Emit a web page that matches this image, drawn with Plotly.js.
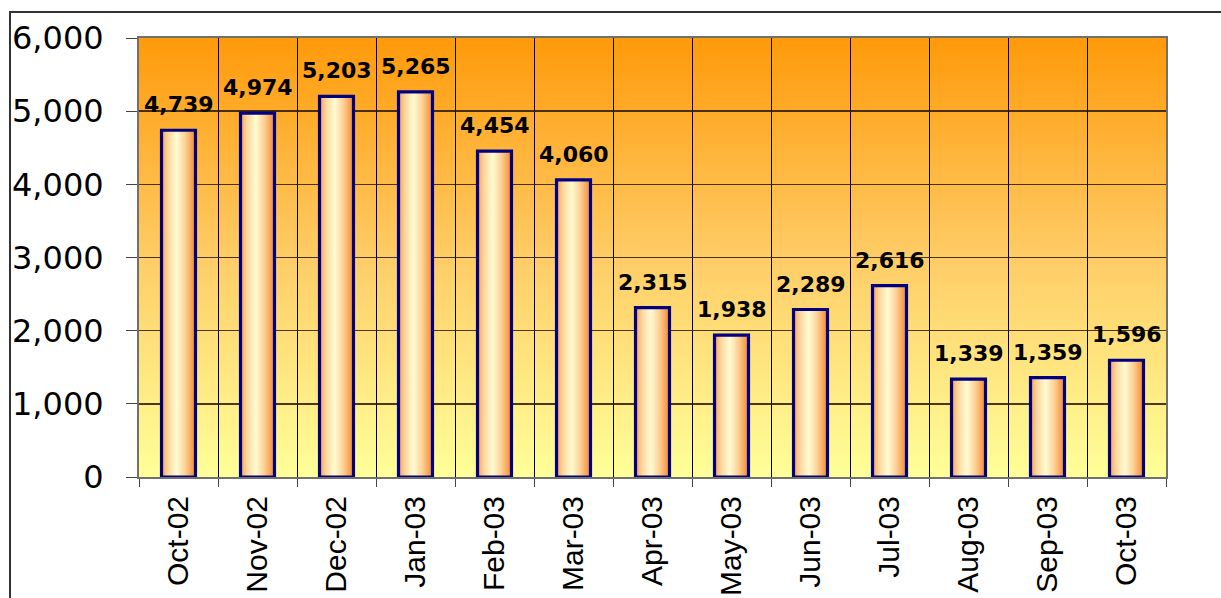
<!DOCTYPE html>
<html>
<head>
<meta charset="utf-8">
<script src="https://cdn.plot.ly/plotly-3.0.1.min.js"></script>
<style>
  html, body { margin: 0; padding: 0; background: #fff; }
  #wrap { position: relative; width: 1221px; height: 598px; overflow: hidden; }
  #chart { position: absolute; left: 0; top: 0; width: 1221px; height: 598px; }
  #frame { position: absolute; left: 9px; top: 11px; width: 1300px; height: 700px;
           border-top: 2px solid #333; border-left: 2px solid #333; pointer-events: none; }
</style>
</head>
<body>
<div id="wrap">
  <div id="chart"></div>
  <div id="frame"></div>
</div>
<script>
const months = ["Oct-02","Nov-02","Dec-02","Jan-03","Feb-03","Mar-03","Apr-03","May-03","Jun-03","Jul-03","Aug-03","Sep-03","Oct-03"];
const values = [4739, 4974, 5203, 5265, 4454, 4060, 2315, 1938, 2289, 2616, 1339, 1359, 1596];
const yTickVals = [0, 1000, 2000, 3000, 4000, 5000, 6000];
const yTickText = ["0", "1,000", "2,000", "3,000", "4,000", "5,000", "6,000"];

const fmt = v => v.toLocaleString("en-US");

const trace = {
  type: "bar",
  x: months,
  y: values,
  width: 0.43,
  marker: { color: "#fde2b0", line: { color: "#000080", width: 3.2 } },
  hoverinfo: "none"
};

const annotations = months.map((m, i) => ({
  x: m, y: values[i], xref: "x", yref: "y",
  text: fmt(values[i]), showarrow: false,
  yanchor: "bottom", yshift: 11,
  font: { family: "DejaVu Sans", size: 22, color: "#000", weight: "bold" }
}));

const layout = {
  width: 1221, height: 598,
  margin: { l: 139, r: 55, t: 38, b: 121, pad: 0 },
  paper_bgcolor: "#ffffff",
  plot_bgcolor: "#ffcc55",
  showlegend: false,
  bargap: 0.57,
  xaxis: {
    type: "category",
    tickson: "boundaries",
    ticks: "outside", ticklen: 8, tickcolor: "#444", tickwidth: 1,
    showgrid: true, gridcolor: "#000", gridwidth: 1,
    tickangle: -90,
    ticklabelstandoff: 5,
    tickfont: { family: "Liberation Sans, Arial", size: 30, color: "#000" },
    showline: true, linecolor: "#707070", linewidth: 2, mirror: true,
    zeroline: false, fixedrange: true
  },
  yaxis: {
    range: [0, 6000],
    tickvals: yTickVals, ticktext: yTickText,
    ticks: "outside", ticklen: 11, tickcolor: "#444", tickwidth: 1,
    ticklabelstandoff: 16,
    showgrid: true, gridcolor: "rgba(40,25,5,0.85)", gridwidth: 1.5,
    tickfont: { family: "DejaVu Sans", size: 32, color: "#000" },
    showline: true, linecolor: "#707070", linewidth: 2, mirror: true,
    zeroline: false, fixedrange: true
  },
  annotations: annotations
};

function applyGradients() {
  const gd = document.getElementById("chart");
  const svg = gd.querySelector("svg.main-svg");
  if (!svg) return;
  const NS = "http://www.w3.org/2000/svg";
  let defs = svg.querySelector("defs");
  if (!defs) { defs = document.createElementNS(NS, "defs"); svg.insertBefore(defs, svg.firstChild); }
  if (!svg.querySelector("#bgGradCustom")) {
    const bg = document.createElementNS(NS, "linearGradient");
    bg.setAttribute("id", "bgGradCustom");
    bg.setAttribute("x1", "0"); bg.setAttribute("y1", "0");
    bg.setAttribute("x2", "0"); bg.setAttribute("y2", "1");
    [["0", "#ff9a0a"], ["0.5", "#ffcc66"], ["1", "#ffff99"]].forEach(([o, c]) => {
      const s = document.createElementNS(NS, "stop");
      s.setAttribute("offset", o); s.setAttribute("stop-color", c);
      bg.appendChild(s);
    });
    defs.appendChild(bg);

    const bar = document.createElementNS(NS, "linearGradient");
    bar.setAttribute("id", "barGradCustom");
    bar.setAttribute("x1", "0"); bar.setAttribute("y1", "0");
    bar.setAttribute("x2", "1"); bar.setAttribute("y2", "0");
    [["0", "#f8a155"], ["0.2", "#fdd8a0"], ["0.45", "#fffbd2"], ["0.7", "#fdd095"], ["1", "#f4882e"]].forEach(([o, c]) => {
      const s = document.createElementNS(NS, "stop");
      s.setAttribute("offset", o); s.setAttribute("stop-color", c);
      bar.appendChild(s);
    });
    defs.appendChild(bar);
  }
  gd.querySelectorAll(".bglayer rect.bg").forEach(r => { r.style.fill = "url(#bgGradCustom)"; });
  gd.querySelectorAll("g.trace.bars g.point path").forEach(p => { p.style.fill = "url(#barGradCustom)"; });
}

Plotly.newPlot("chart", [trace], layout, { displayModeBar: false, staticPlot: true }).then(gd => {
  applyGradients();
  gd.on("plotly_afterplot", applyGradients);
});
</script>
</body>
</html>
